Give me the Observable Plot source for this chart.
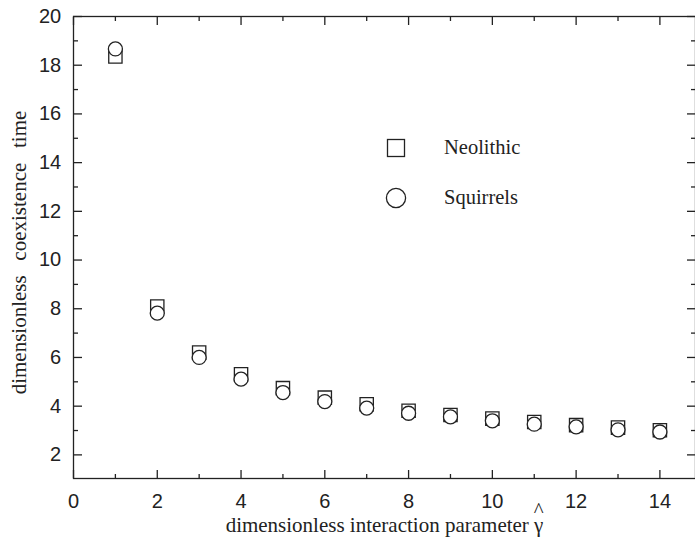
<!DOCTYPE html>
<html>
<head>
<meta charset="utf-8">
<script src="https://cdn.jsdelivr.net/npm/d3@7"></script>
<script src="https://cdn.jsdelivr.net/npm/@observablehq/plot@0.6"></script>
<style>
  html, body { margin: 0; padding: 0; background: white; }
  #wrap { position: relative; width: 695px; height: 542px; }
  .legend { position: absolute; font-family: "Liberation Serif", serif; font-size: 20.5px; color: #222; }
  .legend .row { position: absolute; white-space: nowrap; }
</style>
</head>
<body>
<div id="wrap"></div>
<script>
const gamma = [1, 2, 3, 4, 5, 6, 7, 8, 9, 10, 11, 12, 13, 14];
const neolithic = [18.36, 8.09, 6.2, 5.31, 4.74, 4.35, 4.08, 3.81, 3.64, 3.49, 3.35, 3.22, 3.12, 3.01];
const squirrels = [18.67, 7.82, 6.0, 5.11, 4.56, 4.19, 3.92, 3.71, 3.56, 3.40, 3.26, 3.15, 3.03, 2.94];
const seriesNames = ["Neolithic", "Squirrels"];
const xMajor = [0, 2, 4, 6, 8, 10, 12, 14];
const xMinor = [1, 3, 5, 7, 9, 11, 13];
const yMajor = [2, 4, 6, 8, 10, 12, 14, 16, 18, 20];
const yMinor = [3, 5, 7, 9, 11, 13, 15, 17, 19];
const xLabel = "dimensionless interaction parameter \u03B3";
const xLabelHat = "^";
const yLabel = "dimensionless\u00A0\u00A0\u2009coexistence\u00A0\u00A0\u2009time";

const neoData = gamma.map((g, i) => ({g, v: neolithic[i]}));
const sqData = gamma.map((g, i) => ({g, v: squirrels[i]}));

const ink = "#222";
const none = () => "";
const serif = "'Liberation Serif', 'Times New Roman', serif";
const labelSize = 21;

// measure label so the hat sits over the final γ
const ctx = document.createElement("canvas").getContext("2d");
ctx.font = `${labelSize}px 'Liberation Serif'`;
const fullW = ctx.measureText(xLabel).width;
const gW = ctx.measureText("\u03B3").width;
const hatDx = fullW / 2 - gW / 2;

const chart = Plot.plot({
  width: 695,
  height: 542,
  marginLeft: 73,
  marginRight: 0,
  marginTop: 16,
  marginBottom: 64,
  style: {fontFamily: "'Liberation Sans', Arial, sans-serif", fontSize: "20px", color: ink, background: "white"},
  x: {domain: [0, 14.85]},
  y: {domain: [1.03, 20]},
  marks: [
    Plot.frame({stroke: ink, strokeWidth: 1.3}),
    Plot.axisX({anchor: "bottom", ticks: xMajor, tickSize: -8, tickPadding: 23.6, label: null, stroke: ink, strokeWidth: 1.3, fill: ink}),
    Plot.axisX({anchor: "bottom", ticks: xMinor, tickSize: -4, tickFormat: none, label: null, stroke: ink, strokeWidth: 1.3}),
    Plot.axisX({anchor: "top", ticks: xMajor, tickSize: -8, tickFormat: none, label: null, stroke: ink, strokeWidth: 1.3}),
    Plot.axisX({anchor: "top", ticks: xMinor, tickSize: -4, tickFormat: none, label: null, stroke: ink, strokeWidth: 1.3}),
    Plot.axisY({anchor: "left", ticks: yMajor, tickSize: -9, tickPadding: 21.3, label: null, stroke: ink, strokeWidth: 1.3, fill: ink}),
    Plot.axisY({anchor: "left", ticks: yMinor, tickSize: -5, tickFormat: none, label: null, stroke: ink, strokeWidth: 1.3}),
    Plot.axisY({anchor: "right", ticks: yMajor, tickSize: -9, tickFormat: none, label: null, stroke: ink, strokeWidth: 1.3}),
    Plot.axisY({anchor: "right", ticks: yMinor, tickSize: -5, tickFormat: none, label: null, stroke: ink, strokeWidth: 1.3}),
    Plot.dot(neoData, {x: "g", y: "v", symbol: "square", r: 7.5, stroke: ink, strokeWidth: 1.3, fill: "white"}),
    Plot.dot(sqData, {x: "g", y: "v", symbol: "circle", r: 7, stroke: ink, strokeWidth: 1.3, fill: "white"}),
    Plot.text([xLabel], {text: d => d, frameAnchor: "bottom", dy: 53, fontFamily: serif, fontSize: labelSize, fill: ink}),
    Plot.text([xLabelHat], {text: d => d, frameAnchor: "bottom", dx: hatDx, dy: 38, fontFamily: serif, fontSize: labelSize, fill: ink}),
    Plot.text([yLabel], {text: d => d, frameAnchor: "left", textAnchor: "middle", rotate: -90, dx: -54, dy: 5, fontFamily: serif, fontSize: labelSize, fill: ink})
  ]
});

const wrap = document.getElementById("wrap");
wrap.appendChild(chart);

// Legend (HTML overlay)
const legend = document.createElement("div");
legend.className = "legend";
legend.style.left = "0px";
legend.style.top = "0px";
const symbols = [
  `<svg width="22" height="22" style="position:absolute;left:-11px;top:-11px"><rect x="2.5" y="2.5" width="17" height="17" fill="white" stroke="${ink}" stroke-width="1.3"/></svg>`,
  `<svg width="24" height="24" style="position:absolute;left:-12px;top:-12px"><circle cx="12" cy="12" r="9.6" fill="white" stroke="${ink}" stroke-width="1.3"/></svg>`
];
const rowY = [148, 198];
seriesNames.forEach((name, i) => {
  const sym = document.createElement("div");
  sym.className = "row";
  sym.style.left = "396px";
  sym.style.top = rowY[i] + "px";
  sym.innerHTML = symbols[i];
  legend.appendChild(sym);
  const lab = document.createElement("div");
  lab.className = "row";
  lab.style.left = "444px";
  lab.style.top = (rowY[i] - 13) + "px";
  lab.style.lineHeight = "24px";
  lab.textContent = name;
  legend.appendChild(lab);
});
wrap.appendChild(legend);
</script>
</body>
</html>
